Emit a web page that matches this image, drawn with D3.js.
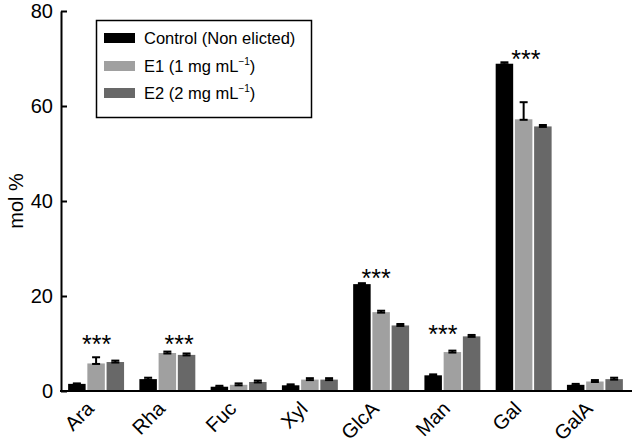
<!DOCTYPE html>
<html>
<head>
<meta charset="utf-8">
<script src="https://cdn.jsdelivr.net/npm/d3@7"></script>
<style>
  body { margin: 0; background: #fff; }
  text { font-family: "Liberation Sans", Arial, sans-serif; }
</style>
</head>
<body>
<div id="chart"></div>
<script>
// sugar composition, mol %
var categories = ["Ara", "Rha", "Fuc", "Xyl", "GlcA", "Man", "Gal", "GalA"];
var seriesNames = ["Control (Non elicted)", "E1 (1 mg mL", "E2 (2 mg mL"];
var control = [1.5, 2.5, 0.9, 1.2, 22.5, 3.3, 68.9, 1.3];
var e1 = [5.8, 8.0, 1.3, 2.4, 16.6, 8.2, 57.2, 2.0];
var e2 = [6.1, 7.6, 1.9, 2.4, 13.8, 11.5, 55.7, 2.5];
var controlErr = [0.1, 0.3, 0.2, 0.2, 0.2, 0.2, 0.3, 0.2];
var e1Err = [1.3, 0.3, 0.3, 0.3, 0.3, 0.3, 3.6, 0.3];
var e2Err = [0.3, 0.3, 0.3, 0.3, 0.3, 0.3, 0.3, 0.3];
var yTicks = [0, 20, 40, 60, 80];

// significance marks
var starCats = ["Ara", "Rha", "GlcA", "Man", "Gal"];
var starY = [10.9, 10.9, 24.9, 13.1, 70.9];
var starShift = [0.51, 0.71, 0.41, 0.33, 0.54]; // fraction of group width

var colors = ["#000000", "#a0a0a0", "#686868"];

var width = 633, height = 448;
var svg = d3.select("#chart").append("svg")
  .attr("width", width)
  .attr("height", height);

var x = d3.scaleBand()
  .domain(categories)
  .range([61, 630])
  .paddingInner(0.215)
  .paddingOuter(0.1);

var xSub = d3.scaleBand()
  .domain([0, 1, 2])
  .range([0, x.bandwidth()])
  .paddingInner(0.09);

var y = d3.scaleLinear().domain([0, 80]).range([391, 11]);

var values = [control, e1, e2];
var errs = [controlErr, e1Err, e2Err];

// bars
var rows = [];
categories.forEach(function (c, i) {
  for (var s = 0; s < 3; s++) {
    rows.push({ cat: c, s: s, v: values[s][i], e: errs[s][i] });
  }
});

svg.append("g").selectAll("rect")
  .data(rows)
  .enter().append("rect")
  .attr("x", function (d) { return x(d.cat) + xSub(d.s); })
  .attr("y", function (d) { return y(d.v); })
  .attr("width", xSub.bandwidth())
  .attr("height", function (d) { return y(0) - y(d.v); })
  .attr("fill", function (d) { return colors[d.s]; });

// error bars (upper)
var eb = svg.append("g").attr("stroke", "#000").attr("stroke-width", 2);
rows.forEach(function (d) {
  var cx = x(d.cat) + xSub(d.s) + xSub.bandwidth() / 2;
  eb.append("line").attr("x1", cx).attr("x2", cx)
    .attr("y1", y(d.v)).attr("y2", y(d.v + d.e));
  eb.append("line").attr("x1", cx - 4).attr("x2", cx + 4)
    .attr("y1", y(d.v + d.e)).attr("y2", y(d.v + d.e));
  eb.append("line").attr("x1", cx - 4).attr("x2", cx + 4)
    .attr("y1", y(d.v) + 0.5).attr("y2", y(d.v) + 0.5);
});

// stars
svg.append("g").selectAll("text")
  .data(starCats)
  .enter().append("text")
  .attr("x", function (d, i) { return x(d) + x.bandwidth() * starShift[i]; })
  .attr("y", function (d, i) { return y(starY[i]) + 14; })
  .attr("text-anchor", "middle")
  .style("font-size", "25px")
  .text("***");

// y axis
var yAxis = svg.append("g")
  .attr("transform", "translate(61,0)")
  .call(d3.axisLeft(y).tickValues(yTicks).tickSize(-6).tickSizeOuter(0).tickPadding(8));
yAxis.select(".domain").attr("stroke-width", 2);
yAxis.selectAll(".tick line").attr("stroke-width", 2);
yAxis.selectAll("text").style("font-size", "20px").attr("fill", "#000");

// x axis line
svg.append("line")
  .attr("x1", 60).attr("x2", 632)
  .attr("y1", y(0)).attr("y2", y(0))
  .attr("stroke", "#000").attr("stroke-width", 2);

// x labels, slanted
var xl = svg.append("g").selectAll("g")
  .data(categories)
  .enter().append("g")
  .attr("transform", function (d) {
    return "translate(" + (x(d) + x.bandwidth() / 2 - 1) + ",410)";
  });
xl.append("text")
  .attr("transform", "rotate(-45)")
  .attr("text-anchor", "end")
  .style("font-size", "20px")
  .text(function (d) { return d; });

// y label
svg.append("text")
  .attr("transform", "translate(23," + ((y(0) + y(80)) / 2) + ") rotate(-90)")
  .attr("text-anchor", "middle")
  .style("font-size", "20px")
  .text("mol %");

// legend
var lg = svg.append("g");
lg.append("rect")
  .attr("x", 96.5).attr("y", 20.5)
  .attr("width", 215).attr("height", 97)
  .attr("fill", "#fff").attr("stroke", "#000").attr("stroke-width", 1.5);
var rowY = [38, 66, 93];
seriesNames.forEach(function (name, i) {
  lg.append("rect")
    .attr("x", 104).attr("y", rowY[i] - 5)
    .attr("width", 31).attr("height", 10)
    .attr("fill", colors[i]);
  var t = lg.append("text")
    .attr("x", 144).attr("y", rowY[i] + 6)
    .style("font-size", "16.5px")
    .text(name);
  if (i > 0) {
    t.append("tspan").attr("dy", -7).style("font-size", "10px").text("\u22121");
    t.append("tspan").attr("dy", 7).text(")");
  }
});
</script>
</body>
</html>
